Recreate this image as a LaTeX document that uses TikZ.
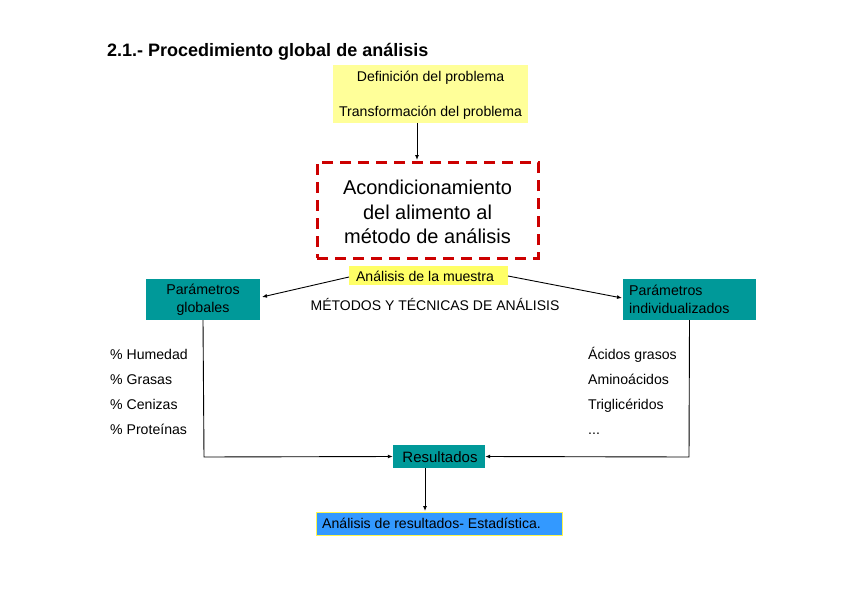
\documentclass[tikz,border=0pt]{standalone}
\usepackage{fontspec}
\setmainfont{Liberation Sans}
\usetikzlibrary{arrows.meta}
\definecolor{lyellow}{HTML}{FFFF99}
\definecolor{byellow}{HTML}{FFFF66}
\definecolor{tealbox}{HTML}{009999}
\definecolor{bluebox}{HTML}{3399FF}
\definecolor{redd}{HTML}{CC0000}
\tikzset{
  arr/.style={-{Latex[length=5pt,width=4pt]}, line width=0.9pt},
  txt/.style={font=\fontsize{14.1}{16}\selectfont, inner sep=0pt},
  teal/.style={fill=tealbox, draw=none, font=\fontsize{14.2}{18}\selectfont, align=center},
}
\begin{document}
\begin{tikzpicture}[x=1pt,y=-1pt]
\useasboundingbox (0,0) rectangle (848,599);
% title
\node[anchor=base west, inner sep=0pt, font=\fontsize{18}{20}\selectfont\bfseries] (title) at (107,57) {2.1.- Procedimiento global de análisis};
% yellow top box
\path[fill=lyellow] (333,65) rectangle (528,123);
\node (topbox) at (430.5,94) [minimum width=195pt, minimum height=58pt, inner sep=0pt] {};
\node[txt, anchor=base] (def) at (430.5,82) {Definición del problema};
\node[txt, anchor=base] (tra) at (430.5,117) {Transformación del problema};
% red dashed box
\node[draw=redd, line width=3pt, dash pattern=on 11pt off 7pt, minimum width=221pt, minimum height=96pt, inner sep=0pt] (acond) at (427.5,210) {};
\node[align=center, font=\fontsize{20}{24.5}\selectfont, inner sep=0pt] (acondt) at (427.5,212) {Acondicionamiento\\del alimento al\\método de análisis};
\draw[arr] (417,123) -- (417,160);
% muestra
\node[fill=byellow, minimum width=159pt, minimum height=19pt, inner sep=0pt, font=\fontsize{14.1}{16}\selectfont] (muestra) at (428.5,275.5) {};
\node[txt, anchor=base] (muestrat) at (425,281) {Análisis de la muestra};
% teal boxes
\node[teal, minimum width=114pt, minimum height=41pt, inner sep=0pt] (glob) at (203,299.5) {Parámetros\\globales};
\path[fill=tealbox] (623,279) rectangle (756,320);
\node (indiv) at (689.5,299.5) [minimum width=133pt, minimum height=41pt, inner sep=0pt] {};
\node[anchor=west, align=left, inner sep=0pt, font=\fontsize{14.2}{18}\selectfont] (indivt) at (629,299.5) {Parámetros\\individualizados};
\draw[arr] (349,277) -- (262,297);
\draw[arr] (508,276) -- (622,298);
\node[font=\fontsize{14}{16}\selectfont, inner sep=0pt, anchor=base] (metodos) at (435,310) {MÉTODOS Y TÉCNICAS DE ANÁLISIS};
% lists
\node[txt, anchor=base west] (l1) at (110,359) {\% Humedad};
\node[txt, anchor=base west] (l2) at (110,384) {\% Grasas};
\node[txt, anchor=base west] (l3) at (110,409) {\% Cenizas};
\node[txt, anchor=base west] (l4) at (110,434) {\% Proteínas};
\node[txt, anchor=base west] (r1) at (588,359) {Ácidos grasos};
\node[txt, anchor=base west] (r2) at (588,384) {Aminoácidos};
\node[txt, anchor=base west] (r3) at (588,409) {Triglicéridos};
\node[txt, anchor=base west] (r4) at (588,434) {...};
% resultados
\node[fill=tealbox, minimum width=92pt, minimum height=23pt, inner sep=0pt] (res) at (439,456.5) {};
\node[anchor=base, inner sep=0pt, font=\fontsize{15}{18}\selectfont] (rest) at (440,462) {Resultados};
\draw[arr] (glob.south) -- (204,457) -- (res.west);
\draw[arr] (indiv.south) -- (689,457) -- (res.east);
% final
\path[fill=bluebox, draw=yellow!70!white, line width=0.5pt] (316,512) rectangle (562,535);
\node (fin) at (439,523.5) [minimum width=246pt, minimum height=23pt, inner sep=0pt] {};
\node[txt, anchor=base west] (fint) at (322,528.5) {Análisis de resultados- Estadística.};
\draw[arr] (425,468) -- (425,511);
\end{tikzpicture}
\end{document}
